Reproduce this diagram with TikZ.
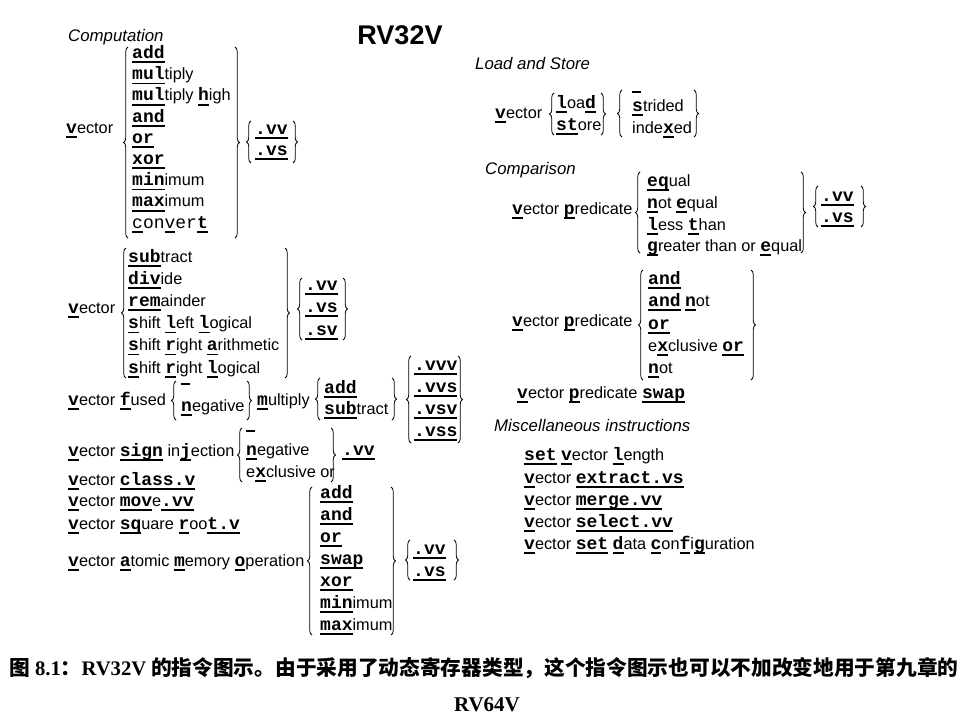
\documentclass[tikz,border=0pt]{standalone}
\usepackage{fontspec}
\usetikzlibrary{decorations.pathreplacing}
\newfontfamily\sansf{Liberation Sans}
\newfontfamily\monof{Liberation Mono}
\newfontfamily\cjk{Noto Sans CJK SC}
\newfontfamily\serf{Liberation Serif}
\newsavebox\ulbx
\newcommand\U[1]{\sbox\ulbx{#1}\rlap{\rule[-4.6pt]{\wd\ulbx}{1.7pt}}\usebox\ulbx}
\newcommand\B[1]{\U{\fontsize{18}{20}\selectfont\monof\bfseries #1}}
\newcommand\Rm[1]{{\fontsize{18}{20}\selectfont\monof #1}}
\newcommand\E{\rule[3pt]{9pt}{1.6pt}}
\tikzset{
  txt/.style={anchor=base west, inner sep=0pt, font=\fontsize{16.3}{20}\selectfont\sansf},
  hd/.style={txt, font=\fontsize{16.8}{20}\selectfont\sansf\itshape},
  brc/.style={decorate, decoration={brace, amplitude=4.5pt}, line width=0.8pt},
}
\begin{document}
\begin{tikzpicture}[x=1pt,y=-1pt]
\useasboundingbox (0,0) rectangle (980,723);
% title
\node[inner sep=0pt, font=\fontsize{27}{30}\selectfont\sansf\bfseries] (title) at (400,35) {RV32V};

% ---------- Computation
\node[hd] (comp) at (68,41.5) {Computation};
\node[txt] (v1) at (66,133) {\B{v}ector};
\draw[brc] (128,238) -- (128,47);
\node[txt] (c1) at (132,58.5) {\B{add}};
\node[txt] (c2) at (132,79.7) {\B{mul}tiply};
\node[txt] (c3) at (132,100.9) {\B{mul}tiply \B{h}igh};
\node[txt] (c4) at (132,122.1) {\B{and}};
\node[txt] (c5) at (132,143.3) {\B{or}};
\node[txt] (c6) at (132,164.5) {\B{xor}};
\node[txt] (c7) at (132,185.7) {\B{min}imum};
\node[txt] (c8) at (132,206.9) {\B{max}imum};
\node[txt] (c9) at (132,228.1) {\U{\Rm{c}}\Rm{on}\U{\Rm{v}}\Rm{er}\B{t}};
\draw[brc] (235,47) -- (235,238);
\draw[brc] (251,163) -- (251,121);
\node[txt] (s1) at (255,134) {\B{.vv}};
\node[txt] (s2) at (255,155) {\B{.vs}};
\draw[brc] (293,121) -- (293,163);

% ---------- second group
\node[txt] (v2) at (68,313) {\B{v}ector};
\draw[brc] (126,378) -- (126,248);
\node[txt] (d1) at (128,262) {\B{sub}tract};
\node[txt] (d2) at (128,284.2) {\B{div}ide};
\node[txt] (d3) at (128,306.4) {\B{rem}ainder};
\node[txt] (d4) at (128,328.6) {\B{s}hift \B{l}eft \B{l}ogical};
\node[txt] (d5) at (128,350.8) {\B{s}hift \B{r}ight \B{a}rithmetic};
\node[txt] (d6) at (128,373) {\B{s}hift \B{r}ight \B{l}ogical};
\draw[brc] (285,248) -- (285,378);
\draw[brc] (302,340) -- (302,278);
\node[txt] (t1) at (305,290) {\B{.vv}};
\node[txt] (t2) at (305,312.5) {\B{.vs}};
\node[txt] (t3) at (305,335) {\B{.sv}};
\draw[brc] (343,278) -- (343,340);

% ---------- fused
\node[txt] (v3) at (68,405) {\B{v}ector \B{f}used};
\draw[brc] (176,420) -- (176,381);
\node[txt] (f0) at (181,388) {\E};
\node[txt] (f1) at (181,411) {\B{n}egative};
\draw[brc] (247,381) -- (247,420);
\node[txt] (fm) at (257,405) {\B{m}ultiply};
\draw[brc] (320,420) -- (320,378);
\node[txt] (g1) at (324,393) {\B{add}};
\node[txt] (g2) at (324,414) {\B{sub}tract};
\draw[brc] (392,378) -- (392,420);
\draw[brc] (411,443) -- (411,356);
\node[txt] (h1) at (414,370) {\B{.vvv}};
\node[txt] (h2) at (414,392) {\B{.vvs}};
\node[txt] (h3) at (414,414) {\B{.vsv}};
\node[txt] (h4) at (414,436) {\B{.vss}};
\draw[brc] (458,356) -- (458,443);

% ---------- sign injection
\node[txt] (v4) at (68,456) {\B{v}ector \B{sign} in\B{j}ection};
\draw[brc] (242,482) -- (242,428);
\node[txt] (i0) at (246,435) {\E};
\node[txt] (i1) at (246,455) {\B{n}egative};
\node[txt] (i2) at (246,477) {e\B{x}clusive or};
\draw[brc] (331,428) -- (331,482);
\node[txt] (i3) at (342,455) {\B{.vv}};

\node[txt] (v5) at (68,485) {\B{v}ector \B{class.v}};
\node[txt] (v6) at (68,506) {\B{v}ector \B{mov}e\B{.vv}};
\node[txt] (v7) at (68,529) {\B{v}ector \B{sq}uare \B{r}oo\B{t.v}};
\node[txt] (v8) at (68,566) {\B{v}ector \B{a}tomic \B{m}emory \B{o}peration};
\draw[brc] (312,635) -- (312,487);
\node[txt] (a1) at (320,498) {\B{add}};
\node[txt] (a2) at (320,520) {\B{and}};
\node[txt] (a3) at (320,542) {\B{or}};
\node[txt] (a4) at (320,564) {\B{swap}};
\node[txt] (a5) at (320,586) {\B{xor}};
\node[txt] (a6) at (320,608) {\B{min}imum};
\node[txt] (a7) at (320,630) {\B{max}imum};
\draw[brc] (391,487) -- (391,635);
\draw[brc] (410,580) -- (410,540);
\node[txt] (b1) at (413,554) {\B{.vv}};
\node[txt] (b2) at (413,576) {\B{.vs}};
\draw[brc] (454,540) -- (454,580);

% ---------- Load and Store
\node[hd] (ls) at (475,69) {Load and Store};
\node[txt] (v9) at (495,118) {\B{v}ector};
\draw[brc] (554,135) -- (554,93);
\node[txt] (l1) at (556,108) {\B{l}oa\B{d}};
\node[txt] (l2) at (556,130) {\B{st}ore};
\draw[brc] (601,93) -- (601,135);
\draw[brc] (622,137) -- (622,90);
\node[txt] (m0) at (632,96) {\E};
\node[txt] (m1) at (632,111) {\B{s}trided};
\node[txt] (m2) at (632,133) {inde\B{x}ed};
\draw[brc] (694,90) -- (694,137);

% ---------- Comparison
\node[hd] (cmp) at (485,174) {Comparison};
\node[txt] (v10) at (512,214) {\B{v}ector \B{p}redicate};
\draw[brc] (640,253) -- (640,172);
\node[txt] (q1) at (647,186) {\B{eq}ual};
\node[txt] (q2) at (647,208) {\B{n}ot \B{e}qual};
\node[txt] (q3) at (647,230) {\B{l}ess \B{t}han};
\node[txt] (q4) at (647,251) {\B{g}reater than or \B{e}qual};
\draw[brc] (801,172) -- (801,253);
\draw[brc] (818,227) -- (818,186);
\node[txt] (r1) at (821,201) {\B{.vv}};
\node[txt] (r2) at (821,222) {\B{.vs}};
\draw[brc] (861,186) -- (861,227);

\node[txt] (v11) at (512,326) {\B{v}ector \B{p}redicate};
\draw[brc] (643,380) -- (643,270);
\node[txt] (p1) at (648,284) {\B{and}};
\node[txt] (p2) at (648,306) {\B{and} \B{n}ot};
\node[txt] (p3) at (648,329) {\B{or}};
\node[txt] (p4) at (648,351) {e\B{x}clusive \B{or}};
\node[txt] (p5) at (648,373) {\B{n}ot};
\draw[brc] (751,270) -- (751,380);
\node[txt] (v12) at (517,398) {\B{v}ector \B{p}redicate \B{swap}};

% ---------- Misc
\node[hd] (misc) at (494,431) {Miscellaneous instructions};
\node[txt] (n1) at (524,460) {\B{set} \B{v}ector \B{l}ength};
\node[txt] (n2) at (524,483) {\B{v}ector \B{extract.vs}};
\node[txt] (n3) at (524,505) {\B{v}ector \B{merge.vv}};
\node[txt] (n4) at (524,527) {\B{v}ector \B{select.vv}};
\node[txt] (n5) at (524,549) {\B{v}ector \B{set} \B{d}ata \B{c}on\B{f}i\B{g}uration};

% ---------- caption
\node[anchor=base, inner sep=0pt, font=\fontsize{20.7}{24}\selectfont\cjk\bfseries] (cap1) at (484,675)
  {图 {\serf\bfseries 8.1}：{\serf\bfseries RV32V} 的指令图示。由于采用了动态寄存器类型，这个指令图示也可以不加改变地用于第九章的};
\node[anchor=base, inner sep=0pt, font=\fontsize{21}{24}\selectfont\serf\bfseries] (cap2) at (487,711) {RV64V};
\end{tikzpicture}
\end{document}
